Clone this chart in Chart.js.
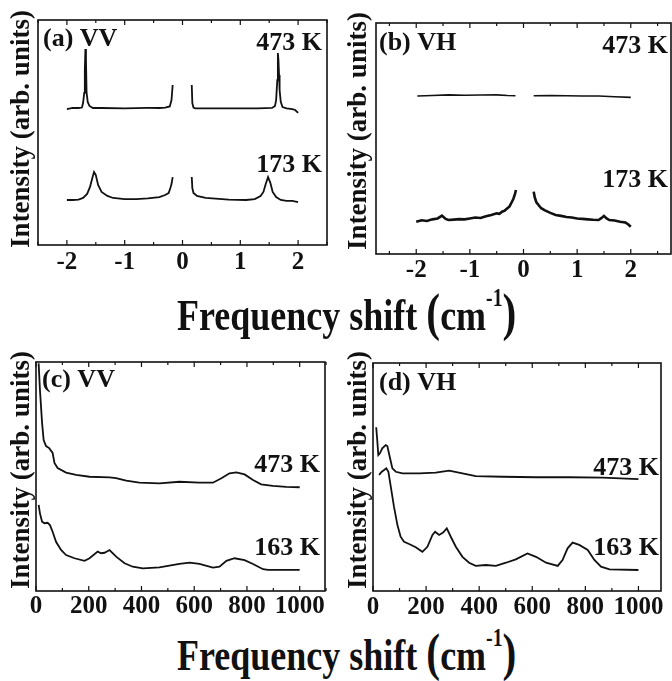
<!DOCTYPE html>
<html>
<head>
<meta charset="utf-8">
<script src="https://cdn.jsdelivr.net/npm/chart.js@4.4.0/dist/chart.umd.min.js"></script>
<style>
  body { margin: 0; background: #fff; width: 672px; height: 681px; position: relative; overflow: hidden; }
  canvas { position: absolute; }
  .xt { position: absolute; left: 177px; font: bold 36px "Liberation Serif", "Times New Roman", serif; line-height: 1;
        white-space: nowrap; color: #111; transform: scaleY(1.25); transform-origin: 0 0; }
  .xt .p { font-size: 1.15em; }
  .xt sup { font-size: 0.55em; vertical-align: 0.95em; line-height: 0; }
</style>
</head>
<body>
<canvas id="pa" width="336" height="290" style="left:0;top:0"></canvas>
<canvas id="pb" width="336" height="290" style="left:336px;top:0"></canvas>
<canvas id="pc" width="336" height="280" style="left:0;top:340px"></canvas>
<canvas id="pd" width="336" height="280" style="left:336px;top:340px"></canvas>
<div class="xt" style="top:287px">Frequency shift <span class="p">(</span>cm<sup>-1</sup><span class="p">)</span></div>
<div class="xt" style="top:627px">Frequency shift <span class="p">(</span>cm<sup>-1</sup><span class="p">)</span></div>
<script>
// tick labels
const ticksLow = [-2, -1, 0, 1, 2];
const minorLow = [-2.5, -1.5, -0.5, 0.5, 1.5, 2.5];
const ticksHigh = [0, 200, 400, 600, 800, 1000];
const minorHigh = [100, 300, 500, 700, 900, 1100];

// (a) VV, low frequency
const a473LeftX = [-2.0, -1.9, -1.8, -1.74, -1.72, -1.70, -1.69, -1.68, -1.67, -1.66, -1.64, -1.61, -1.55, -1.4, -1.0, -0.6, -0.4, -0.3, -0.22, -0.19, -0.17];
const a473LeftY = [60.4, 60.9, 60.9, 61.1, 63.1, 67.6, 77.8, 87.1, 82.2, 68.0, 63.6, 61.8, 60.9, 60.9, 60.7, 60.9, 60.9, 61.1, 61.6, 64.4, 71.1];
const a473RightX = [0.16, 0.17, 0.19, 0.22, 0.3, 0.5, 0.9, 1.3, 1.55, 1.6, 1.62, 1.64, 1.65, 1.66, 1.67, 1.68, 1.70, 1.73, 1.8, 1.9, 1.95, 2.0];
const a473RightY = [71.1, 63.1, 61.1, 60.7, 60.7, 60.7, 60.7, 60.7, 60.9, 61.8, 64.4, 73.3, 85.3, 82.2, 75.6, 68.9, 63.6, 61.3, 60.7, 60.4, 60.0, 58.7];
const a173LeftX = [-2.0, -1.9, -1.8, -1.72, -1.65, -1.6, -1.56, -1.53, -1.5, -1.46, -1.4, -1.3, -1.2, -1.0, -0.8, -0.6, -0.4, -0.3, -0.24, -0.21, -0.19, -0.17];
const a173LeftY = [20.0, 20.0, 20.2, 20.9, 22.7, 25.8, 29.8, 32.4, 31.1, 26.7, 23.6, 21.8, 20.9, 20.4, 20.4, 20.7, 21.3, 22.2, 23.1, 25.3, 27.1, 30.2];
const a173RightX = [0.16, 0.17, 0.19, 0.25, 0.4, 0.8, 1.1, 1.25, 1.35, 1.4, 1.44, 1.48, 1.52, 1.56, 1.62, 1.7, 1.8, 1.9, 2.0];
const a173RightY = [30.2, 25.3, 23.1, 21.8, 20.9, 20.2, 20.0, 20.4, 21.8, 23.6, 27.1, 30.2, 27.6, 23.6, 21.3, 20.0, 19.6, 19.6, 19.1];

// (b) VH, low frequency
const b473LeftX = [-1.98, -1.7, -1.4, -1.1, -0.8, -0.5, -0.3, -0.15];
const b473LeftY = [68.4, 68.6, 68.9, 68.7, 68.8, 68.9, 68.6, 68.5];
const b473RightX = [0.19, 0.5, 0.8, 1.1, 1.4, 1.7, 2.0];
const b473RightY = [68.5, 68.6, 68.5, 68.4, 68.4, 68.1, 67.8];
const b173LeftX = [-2.0, -1.9, -1.8, -1.7, -1.6, -1.52, -1.45, -1.4, -1.3, -1.2, -1.1, -1.0, -0.9, -0.8, -0.7, -0.6, -0.5, -0.45, -0.4, -0.35, -0.3, -0.26, -0.22, -0.19, -0.16, -0.14];
const b173LeftY = [14.0, 14.6, 14.3, 15.0, 15.4, 16.6, 15.2, 14.7, 14.9, 15.1, 15.0, 15.4, 15.8, 15.6, 16.3, 16.9, 17.6, 17.4, 18.3, 18.8, 19.8, 20.6, 22.4, 23.8, 25.9, 27.7];
const b173RightX = [0.19, 0.21, 0.24, 0.28, 0.33, 0.4, 0.5, 0.6, 0.7, 0.8, 0.9, 1.0, 1.1, 1.2, 1.3, 1.4, 1.45, 1.5, 1.55, 1.6, 1.7, 1.8, 1.9, 1.95, 2.0];
const b173RightY = [27.0, 24.5, 22.4, 21.2, 19.8, 18.9, 17.8, 16.9, 16.5, 16.0, 15.8, 15.4, 15.2, 15.0, 14.8, 14.7, 15.5, 16.5, 15.4, 14.7, 14.5, 14.0, 13.6, 12.9, 11.8];

// (c) VV, high frequency
const c473X = [10, 15, 23, 29, 38, 50, 63, 70, 82, 114, 152, 203, 279, 304, 342, 392, 468, 544, 620, 671, 703, 734, 760, 791, 823, 854, 898, 949, 1000];
const c473Y = [99.4, 87.8, 73.4, 65.9, 63.3, 62.4, 60.3, 55.9, 53.7, 51.7, 50.7, 49.9, 49.6, 49.3, 48.2, 47.3, 47.0, 47.7, 47.3, 47.3, 49.2, 51.4, 51.8, 50.9, 48.5, 46.6, 45.9, 45.5, 45.3];
const c163X = [10, 15, 23, 32, 44, 53, 63, 76, 95, 114, 146, 184, 203, 234, 247, 260, 279, 304, 336, 367, 405, 468, 544, 582, 620, 671, 696, 722, 753, 791, 823, 861, 880, 1000];
const c163Y = [37.6, 33.9, 30.3, 29.6, 29.8, 28.8, 25.9, 21.5, 17.9, 15.7, 14.3, 13.2, 14.3, 17.2, 16.5, 16.7, 17.9, 15.0, 12.1, 10.6, 9.9, 10.3, 11.8, 12.4, 11.8, 10.2, 10.6, 13.2, 14.3, 13.5, 11.8, 9.5, 9.2, 9.2];

// (d) VH, high frequency
const d473X = [12, 16, 20, 26, 35, 48, 54, 63, 73, 86, 111, 174, 236, 287, 337, 387, 488, 614, 740, 865, 1000];
const d473Y = [71.8, 66.2, 59.6, 60.4, 62.6, 64.0, 63.6, 58.9, 53.8, 52.3, 51.6, 51.6, 51.9, 52.8, 51.6, 50.4, 50.1, 49.9, 49.9, 49.7, 49.1];
const d163X = [23, 33, 42, 50, 58, 67, 79, 92, 104, 117, 136, 161, 186, 205, 224, 234, 249, 264, 278, 293, 312, 337, 362, 387, 425, 463, 501, 538, 582, 614, 652, 696, 714, 733, 752, 777, 809, 834, 859, 891, 1000];
const d163Y = [50.9, 52.3, 53.1, 53.8, 52.3, 45.8, 37.0, 28.9, 23.8, 21.6, 20.6, 19.2, 17.2, 19.4, 24.6, 26.0, 24.6, 25.6, 27.5, 23.8, 19.4, 15.0, 12.4, 11.0, 11.4, 11.0, 12.4, 13.9, 16.5, 15.0, 12.4, 11.0, 13.6, 18.7, 21.2, 20.2, 18.0, 13.6, 10.7, 9.5, 9.2];

const SERIF = '"Liberation Serif", "Times New Roman", serif';
const INK = '#111';
const pts = (xs, ys) => xs.map((x, i) => ({ x, y: ys[i] }));

// box, inward ticks, panel name, temperatures and y title
const decor = {
    id: 'decor',
    afterDraw(chart, args, o) {
        const { ctx, chartArea: a, scales: { x } } = chart;
        ctx.save();
        ctx.strokeStyle = INK;
        ctx.lineWidth = 1.6;
        ctx.strokeRect(a.left, a.top, a.right - a.left, a.bottom - a.top);
        ctx.lineWidth = 1.2;
        ctx.beginPath();
        const mark = (v, len) => {
            const p = x.getPixelForValue(v);
            ctx.moveTo(p, a.bottom); ctx.lineTo(p, a.bottom - len);
            ctx.moveTo(p, a.top); ctx.lineTo(p, a.top + len);
        };
        o.major.forEach(v => mark(v, 5));
        o.minor.forEach(v => mark(v, 3));
        ctx.stroke();

        ctx.fillStyle = INK;
        ctx.font = `bold 26px ${SERIF}`;
        ctx.textAlign = 'left';
        ctx.fillText(o.name, a.left + o.nameAt[0], a.top + o.nameAt[1]);
        ctx.textAlign = 'right';
        o.temps.forEach(t => ctx.fillText(t.text, a.right - t.dx, a.top + t.dy));

        ctx.font = `bold 27px ${SERIF}`;
        ctx.translate(o.yTitleAt[0], o.yTitleAt[1]);
        ctx.rotate(-Math.PI / 2);
        ctx.textAlign = 'center';
        ctx.textBaseline = 'middle';
        ctx.fillText('Intensity (arb. units)', 0, 0);
        ctx.restore();
    }
};

function panel(id, cfg) {
    return new Chart(document.getElementById(id), {
        type: 'line',
        data: {
            datasets: cfg.series.map((s, i) => ({
                data: s,
                borderColor: INK,
                borderWidth: (cfg.widths && cfg.widths[i]) || 1.8,
                pointRadius: 0,
                tension: 0,
                fill: false
            }))
        },
        options: {
            responsive: false,
            animation: false,
            layout: { padding: cfg.pad },
            plugins: {
                legend: { display: false },
                tooltip: { enabled: false },
                decor: cfg.decor
            },
            scales: {
                x: {
                    type: 'linear',
                    min: cfg.min,
                    max: cfg.max,
                    grid: { display: false, drawTicks: false },
                    border: { display: false },
                    afterBuildTicks: (s) => { s.ticks = cfg.decor.major.map(v => ({ value: v })); },
                    afterFit: (s) => { s.height = cfg.axisH; },
                    ticks: {
                        padding: cfg.tickPad,
                        color: INK,
                        maxRotation: 0,
                        autoSkip: false,
                        font: { family: SERIF, weight: 'bold', size: 25 },
                        callback: (v) => String(v)
                    }
                },
                y: { display: false, min: 0, max: 100 }
            }
        },
        plugins: [decor]
    });
}

panel('pa', {
    min: -2.5, max: 2.5,
    pad: { left: 38, top: 20, right: 9, bottom: 0 }, axisH: 45, tickPad: 3,
    series: [pts(a473LeftX, a473LeftY), pts(a473RightX, a473RightY), pts(a173LeftX, a173LeftY), pts(a173RightX, a173RightY)],
    decor: {
        major: ticksLow, minor: minorLow, name: '(a) VV', nameAt: [5, 26],
        temps: [{ text: '473 K', dx: 5, dy: 30 }, { text: '173 K', dx: 5, dy: 152 }],
        yTitleAt: [22, 129]
    }
});

panel('pb', {
    min: -2.75, max: 2.75,
    pad: { left: 40, top: 23, right: 1, bottom: 0 }, axisH: 36, tickPad: 2,
    series: [pts(b473LeftX, b473LeftY), pts(b473RightX, b473RightY), pts(b173LeftX, b173LeftY), pts(b173RightX, b173RightY)],
    widths: [1.6, 1.6, 2.6, 2.6],
    decor: {
        major: ticksLow, minor: minorLow, name: '(b) VH', nameAt: [3, 27],
        temps: [{ text: '473 K', dx: 3, dy: 30 }, { text: '173 K', dx: 3, dy: 164 }],
        yTitleAt: [23, 131]
    }
});

panel('pc', {
    min: 0, max: 1096,
    pad: { left: 36, top: 22, right: 11, bottom: 0 }, axisH: 29, tickPad: 1,
    series: [pts(c473X, c473Y), pts(c163X, c163Y)],
    decor: {
        major: ticksHigh, minor: minorHigh, name: '(c) VV', nameAt: [6, 25],
        temps: [{ text: '473 K', dx: 5, dy: 110 }, { text: '163 K', dx: 5, dy: 193 }],
        yTitleAt: [22, 130]
    }
});

panel('pd', {
    min: 0, max: 1085,
    pad: { left: 37, top: 23, right: 11, bottom: 0 }, axisH: 29, tickPad: 2,
    series: [pts(d473X, d473Y), pts(d163X, d163Y)],
    decor: {
        major: ticksHigh, minor: minorHigh.slice(0, 5), name: '(d) VH', nameAt: [6, 27],
        temps: [{ text: '473 K', dx: 2, dy: 112 }, { text: '163 K', dx: 2, dy: 192 }],
        yTitleAt: [23, 130]
    }
});
</script>
</body>
</html>
